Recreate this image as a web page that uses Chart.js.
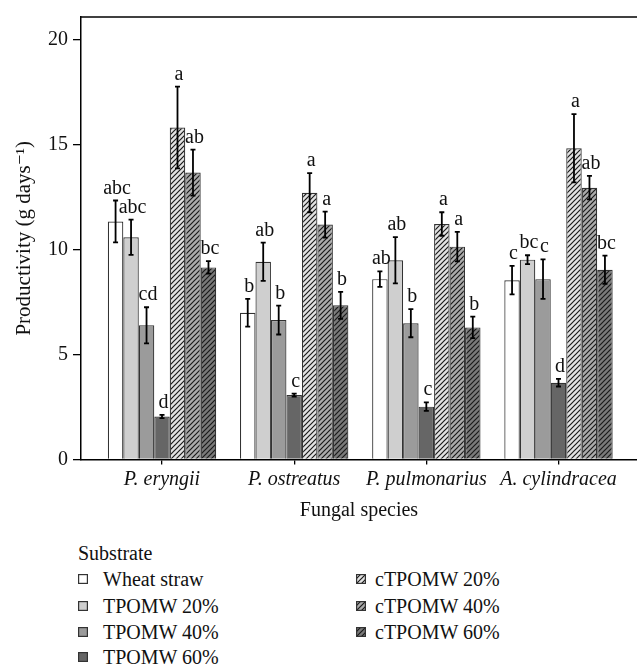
<!DOCTYPE html>
<html>
<head>
<meta charset="utf-8">
<script src="https://cdn.jsdelivr.net/npm/chart.js@4.4.1/dist/chart.umd.min.js"></script>
<style>
  body { margin: 0; background: #fff; }
  #wrap { position: relative; width: 637px; height: 666px; font-family: "Liberation Serif", "DejaVu Serif", serif; color: #111; }
  #chart { position: absolute; left: 0; top: 0; }
  .lg { position: absolute; font-size: 20px; line-height: 22px; white-space: nowrap; }
  .lg canvas { position: absolute; left: 0; top: 6px; }
  .lg span { position: absolute; top: 0; }
</style>
</head>
<body>
<div id="wrap">
  <canvas id="chart" width="637" height="526"></canvas>
  <div id="legend"></div>
</div>
<script>
const species = ['P. eryngii', 'P. ostreatus', 'P. pulmonarius', 'A. cylindracea'];
const substrates = ['Wheat straw', 'TPOMW 20%', 'TPOMW 40%', 'TPOMW 60%', 'cTPOMW 20%', 'cTPOMW 40%', 'cTPOMW 60%'];
const yTicks = [0, 5, 10, 15, 20];

// mean productivity, one value per species
const wheatStraw = [11.35, 7.0, 8.6, 8.55];
const tpomw20 = [10.6, 9.43, 9.5, 9.53];
const tpomw40 = [6.4, 6.65, 6.5, 8.6];
const tpomw60 = [2.05, 3.07, 2.52, 3.66];
const ctpomw20 = [15.83, 12.72, 11.23, 14.84];
const ctpomw40 = [13.68, 11.2, 10.15, 12.96];
const ctpomw60 = [9.16, 7.35, 6.3, 9.05];

// error bar half-lengths
const wheatStrawErr = [1.0, 0.66, 0.37, 0.68];
const tpomw20Err = [0.84, 0.91, 1.1, 0.21];
const tpomw40Err = [0.86, 0.69, 0.67, 0.94];
const tpomw60Err = [0.08, 0.07, 0.2, 0.18];
const ctpomw20Err = [1.95, 0.94, 0.56, 1.63];
const ctpomw40Err = [1.1, 0.62, 0.7, 0.56];
const ctpomw60Err = [0.3, 0.64, 0.51, 0.67];

// significance letters
const wheatStrawSig = ['abc', 'b', 'ab', 'c'];
const tpomw20Sig = ['abc', 'ab', 'ab', 'bc'];
const tpomw40Sig = ['cd', 'b', 'b', 'c'];
const tpomw60Sig = ['d', 'c', 'c', 'd'];
const ctpomw20Sig = ['a', 'a', 'a', 'a'];
const ctpomw40Sig = ['ab', 'a', 'a', 'ab'];
const ctpomw60Sig = ['bc', 'b', 'b', 'bc'];

const FONT = '"Liberation Serif", "DejaVu Serif", serif';

function hatch(bg) {
    const c = document.createElement('canvas');
    c.width = 5; c.height = 5;
    const g = c.getContext('2d');
    g.fillStyle = bg;
    g.fillRect(0, 0, 5, 5);
    g.strokeStyle = '#1a1a1a';
    g.lineWidth = 1.2;
    g.beginPath();
    g.moveTo(-1, 6); g.lineTo(6, -1);
    g.moveTo(-1, 1); g.lineTo(1, -1);
    g.moveTo(4, 6); g.lineTo(6, 4);
    g.stroke();
    return g.createPattern(c, 'repeat');
}

const fills = ['#ffffff', '#cfcfcf', '#9b9b9b', '#666666', hatch('#e2e2e2'), hatch('#ababab'), hatch('#7a7a7a')];
const means = [wheatStraw, tpomw20, tpomw40, tpomw60, ctpomw20, ctpomw40, ctpomw60];
const errs = [wheatStrawErr, tpomw20Err, tpomw40Err, tpomw60Err, ctpomw20Err, ctpomw40Err, ctpomw60Err];
const sigs = [wheatStrawSig, tpomw20Sig, tpomw40Sig, tpomw60Sig, ctpomw20Sig, ctpomw40Sig, ctpomw60Sig];

const datasets = substrates.map((name, k) => ({
    label: name,
    data: means[k].map((v, i) => ({ x: i, y: v })),
    errors: errs[k],
    letters: sigs[k],
    backgroundColor: fills[k],
    borderColor: '#333',
    borderWidth: 1.2,
    categoryPercentage: 0.82,
    barPercentage: 1.0
}));

// error bars + letters drawn on top of the bars
const errorBars = {
    id: 'errorBars',
    afterDatasetsDraw(chart) {
        const c = chart.ctx;
        const y = chart.scales.y;
        c.save();
        c.strokeStyle = '#000';
        c.lineWidth = 1.8;
        c.fillStyle = '#111';
        c.font = '20px ' + FONT;
        c.textAlign = 'center';
        c.textBaseline = 'alphabetic';
        chart.data.datasets.forEach((ds, i) => {
            chart.getDatasetMeta(i).data.forEach((bar, j) => {
                const v = ds.data[j].y, e = ds.errors[j];
                const top = y.getPixelForValue(v + e);
                const bot = y.getPixelForValue(v - e);
                const x = bar.x;
                c.beginPath();
                c.moveTo(x, top); c.lineTo(x, bot);
                c.moveTo(x - 2.5, top); c.lineTo(x + 2.5, top);
                c.moveTo(x - 2.5, bot); c.lineTo(x + 2.5, bot);
                c.stroke();
                c.fillText(ds.letters[j], x + 1.5, top - 7);
            });
        });
        c.restore();
    }
};

// top edge of the plot frame (right edge is cut off in the original)
const frameTop = {
    id: 'frameTop',
    afterDraw(chart) {
        const a = chart.chartArea, c = chart.ctx;
        c.save();
        c.strokeStyle = '#000';
        c.lineWidth = 1.5;
        c.beginPath();
        c.moveTo(a.left, a.top);
        c.lineTo(a.right, a.top);
        c.stroke();
        c.restore();
    }
};

Chart.defaults.font.family = FONT;
Chart.defaults.font.size = 20;
Chart.defaults.color = '#111';

const ctx = document.getElementById('chart').getContext('2d');
new Chart(ctx, {
    type: 'bar',
    data: { datasets: datasets },
    options: {
        responsive: false,
        animation: false,
        layout: { padding: { top: 12, right: 0, left: 0, bottom: 0 } },
        plugins: {
            legend: { display: false },
            tooltip: { enabled: false }
        },
        scales: {
            x: {
                type: 'linear',
                offset: false,
                min: -0.613,
                max: 3.594,
                afterBuildTicks: (scale) => { scale.ticks = species.map((s, i) => ({ value: i })); },
                afterFit: (scale) => { scale.height = 66.5; },
                ticks: {
                    callback: (v) => species[v],
                    font: { family: FONT, size: 20, style: 'italic' },
                    padding: 3,
                    maxRotation: 0,
                    autoSkip: false
                },
                grid: { offset: false, drawOnChartArea: false, drawTicks: true, tickLength: 5, color: '#000', lineWidth: 1.3 },
                border: { display: true, color: '#000', width: 1.5 },
                title: { display: true, text: 'Fungal species', font: { family: FONT, size: 20 }, padding: { top: 0, bottom: 3 } }
            },
            y: {
                min: 0,
                max: 21.1,
                afterBuildTicks: (scale) => { scale.ticks = yTicks.map(v => ({ value: v })); },
                afterFit: (scale) => { scale.width = 81; },
                ticks: { padding: 5, font: { family: FONT, size: 20 } },
                grid: { drawOnChartArea: false, drawTicks: true, tickLength: 8, color: '#000', lineWidth: 1.3 },
                border: { display: true, color: '#000', width: 1.5 },
                title: { display: true, text: 'Productivity (g days\u207B\u00B9)', font: { family: FONT, size: 21 }, padding: { top: 12, bottom: 0 } }
            }
        }
    },
    plugins: [errorBars, frameTop]
});

// legend laid out like the original: title, then two columns
const legendPos = [
    { x: 78, y: 579 }, { x: 78, y: 606 }, { x: 78, y: 632 }, { x: 78, y: 657 },
    { x: 356, y: 579 }, { x: 356, y: 606 }, { x: 356, y: 632 }
];
const legend = document.getElementById('legend');
const head = document.createElement('div');
head.className = 'lg';
head.style.left = '78px';
head.style.top = (553 - 11) + 'px';
head.textContent = 'Substrate';
legend.appendChild(head);
substrates.forEach((name, k) => {
    const item = document.createElement('div');
    item.className = 'lg';
    item.style.left = legendPos[k].x + 'px';
    item.style.top = (legendPos[k].y - 11) + 'px';
    const sw = document.createElement('canvas');
    sw.width = 10; sw.height = 10;
    const g = sw.getContext('2d');
    g.fillStyle = fills[k];
    g.fillRect(0, 0, 10, 10);
    g.strokeStyle = '#333';
    g.lineWidth = 1.2;
    g.strokeRect(0.6, 0.6, 8.8, 8.8);
    item.appendChild(sw);
    const t = document.createElement('span');
    t.style.left = (k < 4 ? 25 : 19) + 'px';
    t.textContent = name;
    item.appendChild(t);
    legend.appendChild(item);
});
</script>
</body>
</html>
